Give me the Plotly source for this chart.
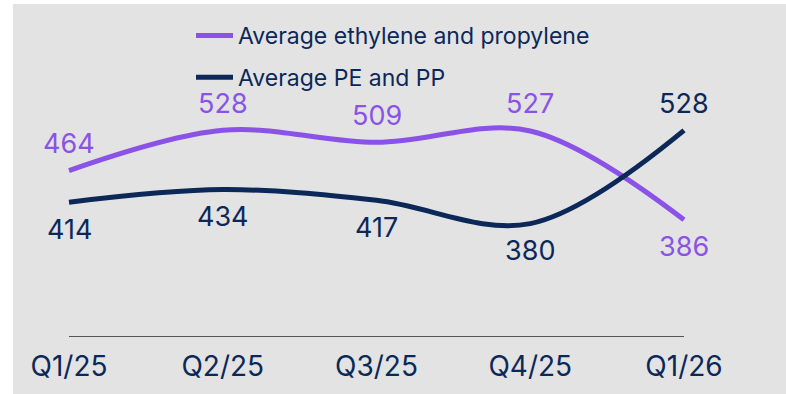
import plotly.graph_objects as go

quarters = ["Q1/25", "Q2/25", "Q3/25", "Q4/25", "Q1/26"]
olefins = [464, 528, 509, 527, 386]       # Average ethylene and propylene
polymers = [414, 434, 417, 380, 528]      # Average PE and PP

PURPLE = "#8a52e6"
NAVY = "#0b2858"
BG = "#e3e3e3"
FONT = "Inter"

W, H = 786, 394
L, R, T, B = 13, 0, 4, 57
x_idx = list(range(len(quarters)))

fig = go.Figure()
fig.add_trace(go.Scatter(
    x=x_idx, y=olefins, mode="lines", name="Average ethylene and propylene",
    line=dict(color=PURPLE, width=5, shape="spline", smoothing=1),
    legendgroup="a", hoverinfo="skip"))
fig.add_trace(go.Scatter(
    x=x_idx, y=polymers, mode="lines", name="Average PE and PP",
    line=dict(color=NAVY, width=5, shape="spline", smoothing=1),
    legendgroup="b", hoverinfo="skip"))

# value labels: olefins above except the last point, polymers the reverse
for i, v in enumerate(olefins):
    up = i < len(olefins) - 1
    fig.add_annotation(x=i, y=v, text=str(v), showarrow=False,
                       yshift=27 if up else -27, yanchor="middle",
                       font=dict(family=FONT, size=27, color=PURPLE))
for i, v in enumerate(polymers):
    up = i == len(polymers) - 1
    fig.add_annotation(x=i, y=v, text=str(v), showarrow=False,
                       yshift=27 if up else -27, yanchor="middle",
                       font=dict(family=FONT, size=27, color=NAVY))

# baseline spanning the first to last quarter
fig.add_shape(type="line", xref="x", yref="y", x0=0, x1=len(quarters) - 1,
              y0=200, y1=200, line=dict(color="#555555", width=2))

# white strips on the left and top edges
fig.add_shape(type="rect", xref="paper", yref="paper",
              x0=-L / (W - L - R), x1=0, y0=-2, y1=3,
              fillcolor="white", line_width=0, layer="below")
fig.add_shape(type="rect", xref="paper", yref="paper",
              x0=-1, x1=2, y0=1, y1=1 + T / (H - T - B),
              fillcolor="white", line_width=0, layer="below")

px_per_unit = 153.75
fig.update_layout(
    width=W, height=H,
    margin=dict(l=L, r=R, t=T, b=B, pad=0),
    paper_bgcolor=BG, plot_bgcolor=BG,
    showlegend=True,
    legend=dict(x=(191 - L) / (W - L - R), y=1 - (14 - T) / (H - T - B),
                xanchor="left", yanchor="top", itemwidth=37,
                bgcolor="rgba(0,0,0,0)", tracegroupgap=9,
                font=dict(family=FONT, size=23, color=NAVY)),
    xaxis=dict(range=[-(69 - L) / px_per_unit, (W - R - 69) / px_per_unit],
               tickmode="array", tickvals=x_idx, ticktext=quarters,
               showgrid=False, zeroline=False, showline=False, ticks="",
               ticklabelstandoff=10,
               tickfont=dict(family=FONT, size=28, color=NAVY)),
    yaxis=dict(range=[200, 200 + (H - T - B) / 0.63], visible=False,
               showgrid=False, zeroline=False),
)

fig.write_html("out.html")
